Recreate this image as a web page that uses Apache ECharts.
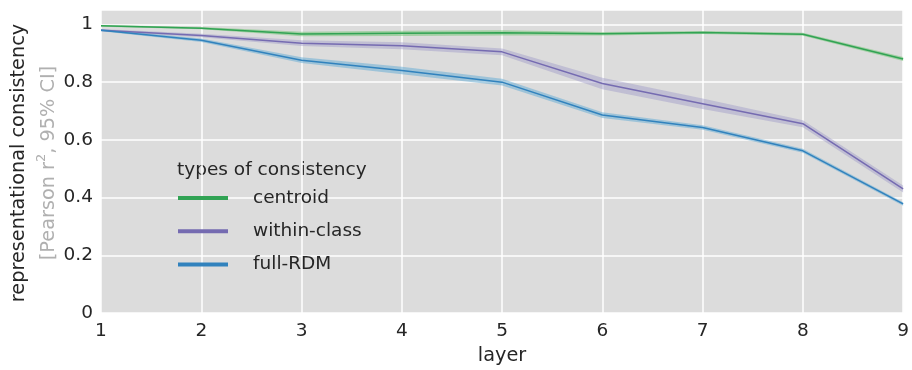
<!DOCTYPE html>
<html><head><meta charset="utf-8">
<script src="https://cdn.jsdelivr.net/npm/echarts@6/dist/echarts.min.js"></script>
<style>html,body{margin:0;padding:0;background:#fff}#c{width:912px;height:370px}</style>
</head><body><div id="c"></div>
<script>
const layers = ['1','2','3','4','5','6','7','8','9'];
const centroidMean = [0.995, 0.987, 0.967, 0.969, 0.971, 0.968, 0.972, 0.966, 0.880];
const centroidCI   = [0.003, 0.004, 0.008, 0.009, 0.009, 0.006, 0.005, 0.005, 0.007];
const withinMean   = [0.980, 0.962, 0.935, 0.926, 0.905, 0.795, 0.725, 0.656, 0.430];
const withinCI     = [0.004, 0.006, 0.010, 0.012, 0.012, 0.020, 0.018, 0.012, 0.012];
const fullMean     = [0.980, 0.945, 0.876, 0.840, 0.800, 0.686, 0.643, 0.562, 0.378];
const fullCI       = [0.004, 0.006, 0.010, 0.013, 0.012, 0.010, 0.008, 0.007, 0.006];
const yTicks = [0, 0.2, 0.4, 0.6, 0.8, 1];

const FS = 18.5;
const TS = 19.3;
const defs = [
  {name:'centroid', mean:centroidMean, ci:centroidCI, line:'#31a354', band:'rgba(116,196,118,0.55)'},
  {name:'within-class', mean:withinMean, ci:withinCI, line:'#756bb1', band:'rgba(158,154,200,0.45)'},
  {name:'full-RDM', mean:fullMean, ci:fullCI, line:'#3182bd', band:'rgba(107,174,214,0.55)'}
];
const series = [];
defs.forEach((d,i)=>{
  const lower = d.mean.map((m,k)=>m - d.ci[k]);
  const width = d.ci.map(c=>2*c);
  series.push({name:d.name+'_lo', type:'line', stack:'b'+i, data:lower, symbol:'none',
    lineStyle:{opacity:0}, silent:true, z:1});
  series.push({name:d.name+'_band', type:'line', stack:'b'+i, data:width, symbol:'none',
    lineStyle:{opacity:0}, areaStyle:{color:d.band, opacity:1}, silent:true, z:1});
});
defs.forEach(d=>{
  series.push({name:d.name, type:'line', data:d.mean, symbol:'none', color:d.line,
    lineStyle:{color:d.line, width:1.5}, z:3});
});

const chart = echarts.init(document.getElementById('c'), null, {renderer:'canvas'});
chart.setOption({
  animation:false,
  backgroundColor:'#ffffff',
  grid:{left:101, right:4, top:10, bottom:57, show:true, backgroundColor:'#dcdcdc', borderWidth:0},
  xAxis:{type:'category', data:layers, boundaryGap:false,
    axisLine:{show:false}, axisTick:{show:false},
    axisLabel:{color:'#262626', fontSize:FS, fontFamily:'DejaVu Sans', margin:9},
    splitLine:{show:true, lineStyle:{color:'#ffffff', width:1.5}},
    name:'layer', nameLocation:'middle', nameGap:33,
    nameTextStyle:{color:'#262626', fontSize:TS, fontFamily:'DejaVu Sans'}},
  yAxis:{type:'value', min:0, max:1.05, interval:0.2,
    axisLine:{show:false}, axisTick:{show:false},
    axisLabel:{color:'#262626', fontSize:FS, fontFamily:'DejaVu Sans', margin:8,
      formatter:v=>{const t=yTicks.find(x=>Math.abs(x-v)<1e-6); return t===undefined?'':String(t);}},
    splitLine:{show:true, lineStyle:{color:'#ffffff', width:1.5}}},
  legend:{orient:'vertical', left:173, top:183, itemWidth:50, itemHeight:4, itemGap:13.3, icon:'rect',
    data:defs.map(d=>d.name),
    textStyle:{color:'#262626', fontSize:FS, fontFamily:'DejaVu Sans', padding:[0,0,0,20], lineHeight:20},
    selectedMode:false},
  graphic:[
    {type:'text', left:177, top:161, style:{text:'types of consistency', fill:'#262626', fontSize:FS, fontFamily:'DejaVu Sans'}},
    {type:'text', x:19, y:163, rotation:Math.PI/2, style:{text:'representational consistency', fill:'#262626',
      fontSize:TS, fontFamily:'DejaVu Sans', align:'center', verticalAlign:'middle'}},
    {type:'text', x:49, y:163, rotation:Math.PI/2, style:{text:'{g|[Pearson r}{s|2}{g|, 95% CI]}',
      align:'center', verticalAlign:'middle',
      rich:{g:{fill:'#b0b0b0', fontSize:TS, fontFamily:'DejaVu Sans', lineHeight:28},
            s:{fill:'#b0b0b0', fontSize:13, fontFamily:'DejaVu Sans', verticalAlign:'top', lineHeight:14}}}}
  ],
  series:series
});
</script></body></html>
